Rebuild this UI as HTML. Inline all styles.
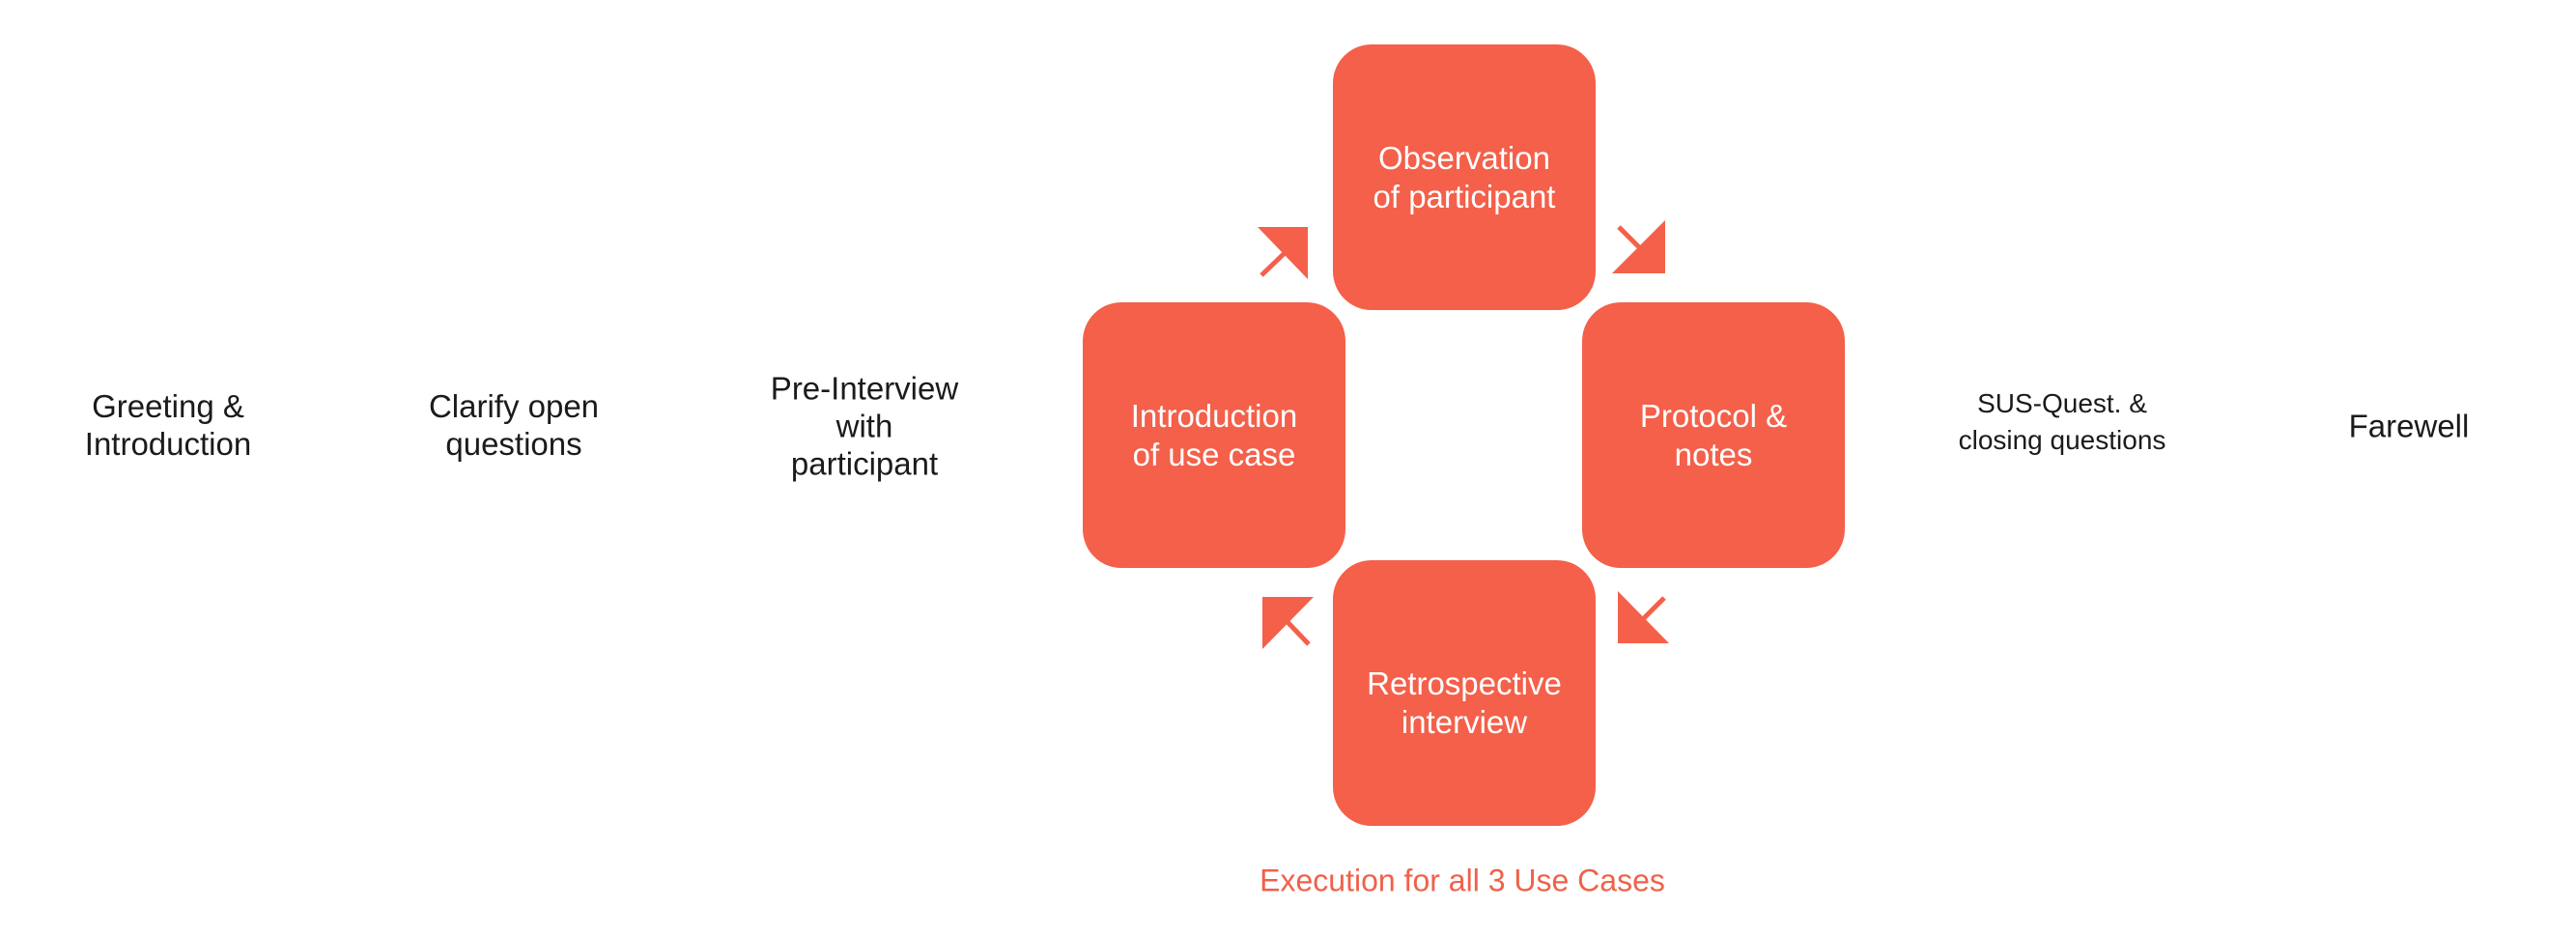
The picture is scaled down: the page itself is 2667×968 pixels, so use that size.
<!DOCTYPE html>
<html><head><meta charset="utf-8"><style>
html,body{margin:0;padding:0;background:#fff;}
body{width:2667px;height:968px;position:relative;overflow:hidden;font-family:"Liberation Sans",sans-serif;}
.t{position:absolute;transform:translate(-50%,-50%);text-align:center;color:#1b1b1b;font-size:33px;line-height:39px;white-space:nowrap;}
.b{position:absolute;background:#f4604a;border-radius:40px;width:272px;height:275px;display:flex;align-items:center;justify-content:center;color:#fff;font-size:33px;line-height:40px;text-align:center;}
</style></head><body>
<div class="t" style="left:174px;top:440px;">Greeting &amp;<br>Introduction</div>
<div class="t" style="left:532px;top:440px;">Clarify open<br>questions</div>
<div class="t" style="left:895px;top:441px;">Pre-Interview<br>with<br>participant</div>
<div class="t" style="left:2135px;top:437px;font-size:28px;line-height:38px;">SUS-Quest. &amp;<br>closing questions</div>
<div class="t" style="left:2494px;top:441px;">Farewell</div>
<div class="t" style="left:1514px;top:912px;color:#f0614a;font-size:32px;">Execution for all 3 Use Cases</div>

<div class="b" style="left:1380px;top:46px;">Observation<br>of participant</div>
<div class="b" style="left:1121px;top:313px;">Introduction<br>of use case</div>
<div class="b" style="left:1638px;top:313px;">Protocol &amp;<br>notes</div>
<div class="b" style="left:1380px;top:580px;padding-top:20px;box-sizing:border-box;">Retrospective<br>interview</div>

<svg width="2667" height="968" style="position:absolute;left:0;top:0;" xmlns="http://www.w3.org/2000/svg">
<g fill="#f4604a" stroke="#f4604a" stroke-width="5">
<polygon points="1302,235 1354,235 1354,289" stroke="none"/>
<line x1="1331" y1="261" x2="1306" y2="285"/>
<polygon points="1724,228 1724,283 1669,283" stroke="none"/>
<line x1="1676" y1="235" x2="1699" y2="258"/>
<polygon points="1675,612 1675,666 1728,666" stroke="none"/>
<line x1="1723" y1="619" x2="1700" y2="642"/>
<polygon points="1307,618 1360,618 1307,672" stroke="none"/>
<line x1="1333" y1="644" x2="1355" y2="667"/>
</g>
</svg>
</body></html>
